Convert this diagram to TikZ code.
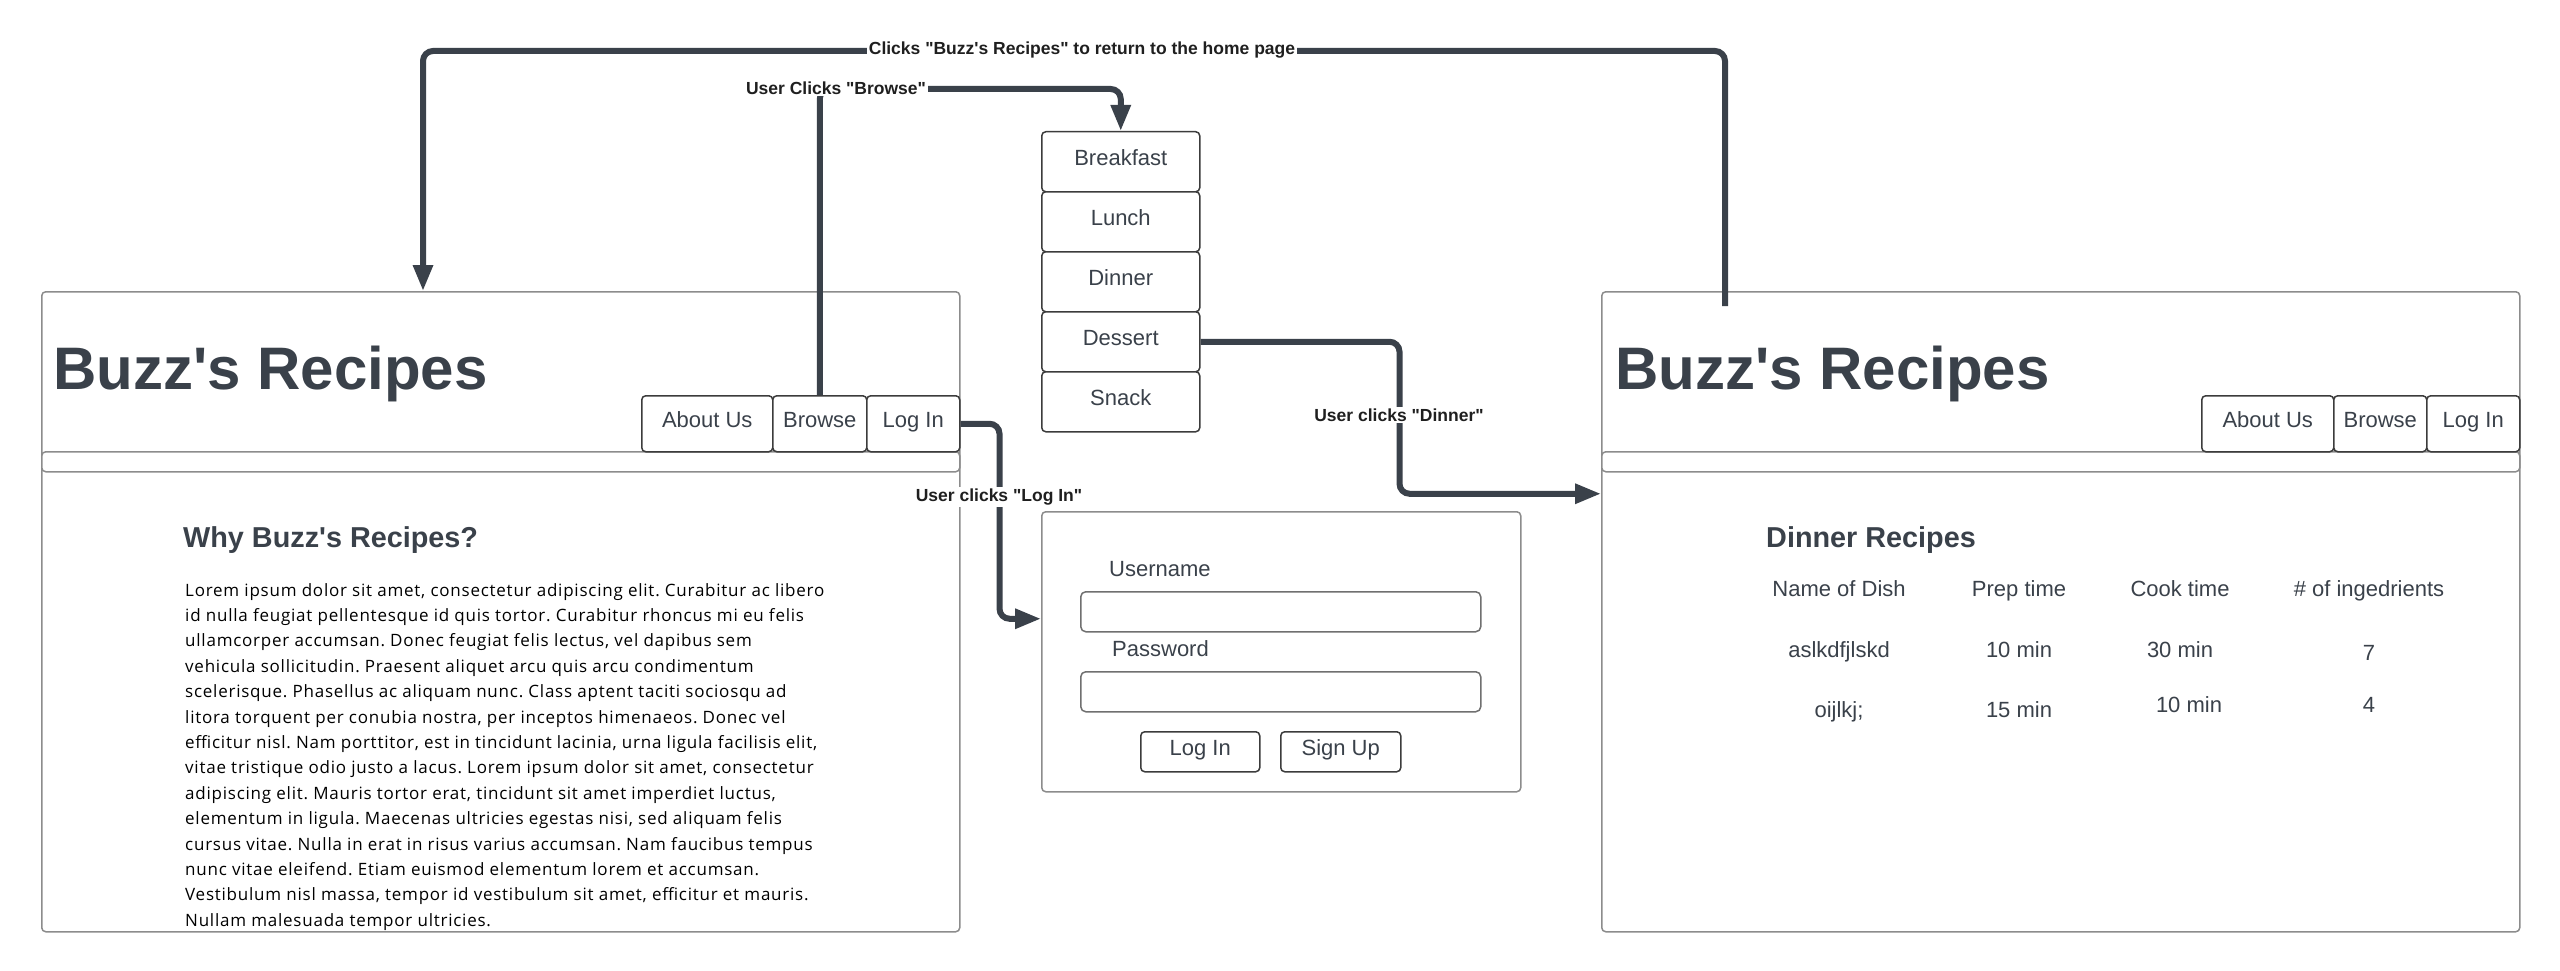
\documentclass[tikz,border=0pt]{standalone}
\usepackage{fontspec}
\setmainfont{Liberation Sans}
\newfontfamily\opensans{Open Sans}[LetterSpace=4.5]
\usetikzlibrary{arrows.meta,calc}
\definecolor{ink}{HTML}{3A414A}
\definecolor{pgray}{HTML}{8C8C8C}
\definecolor{bdark}{HTML}{3C3C3C}
\newcommand\ap{\textquotesingle}
\newcommand\qq[1]{\textquotedbl #1\textquotedbl}
\tikzset{
 pagebox/.style={draw=pgray, line width=1.5pt, rounded corners=4pt, inner sep=0pt, anchor=north west, fill=white},
 btn/.style={draw=bdark, line width=1.5pt, rounded corners=4pt, inner sep=0pt, anchor=north west, text=ink, fill=white,
   font=\fontsize{22}{26}\selectfont, text height=16pt, text depth=8pt},
 field/.style={draw=pgray!80!black, line width=1.5pt, rounded corners=5pt, inner sep=0pt, anchor=north west, fill=white},
 conn/.style={draw=ink, line width=6pt, rounded corners=10pt, -{Triangle[length=26pt,width=19pt]}},
 lbl/.style={fill=white, inner sep=1.5pt, font=\bfseries\fontsize{17.5}{20}\selectfont, text=black!88},
 title/.style={font=\bfseries\fontsize{60}{70}\selectfont, text=ink, anchor=base west, inner sep=0pt},
 heading/.style={font=\bfseries\fontsize{28.8}{32}\selectfont, text=ink, anchor=base west, inner sep=0pt},
 cell/.style={font=\fontsize{22}{26}\selectfont, text=ink, inner sep=0pt, text height=16pt, text depth=0pt},
}
\begin{document}
\begin{tikzpicture}[x=1pt,y=-1pt]
\useasboundingbox (0,0) rectangle (2560,971);

% ---------- left page ----------
\node[pagebox, minimum width=918pt, minimum height=640pt] (lp) at (41,291) {};
\node[pagebox, minimum width=918pt, minimum height=20pt] (lbar) at (41,451) {};
\node[btn, minimum width=131pt, minimum height=56pt] (lab) at (641,395) {About Us};
\node[btn, minimum width=94pt, minimum height=56pt] (lbr) at (772,395) {Browse};
\node[btn, minimum width=93pt, minimum height=56pt] (lli) at (866,395) {Log In};
\node[title] (ltitle) at (53,389) {Buzz\ap s Recipes};
\node[heading] (why) at (183,547) {Why Buzz\ap s Recipes?};
\node[anchor=north west, inner sep=0pt, align=left, text=black,
      font=\opensans\fontsize{17}{25.4}\selectfont\frenchspacing] (lorem) at (185,583) {%
Lorem ipsum dolor sit amet, consectetur adipiscing elit. Curabitur ac libero\\
id nulla feugiat pellentesque id quis tortor. Curabitur rhoncus mi eu felis\\
ullamcorper accumsan. Donec feugiat felis lectus, vel dapibus sem\\
vehicula sollicitudin. Praesent aliquet arcu quis arcu condimentum\\
scelerisque. Phasellus ac aliquam nunc. Class aptent taciti sociosqu ad\\
litora torquent per conubia nostra, per inceptos himenaeos. Donec vel\\
efficitur nisl. Nam porttitor, est in tincidunt lacinia, urna ligula facilisis elit,\\
vitae tristique odio justo a lacus. Lorem ipsum dolor sit amet, consectetur\\
adipiscing elit. Mauris tortor erat, tincidunt sit amet imperdiet luctus,\\
elementum in ligula. Maecenas ultricies egestas nisi, sed aliquam felis\\
cursus vitae. Nulla in erat in risus varius accumsan. Nam faucibus tempus\\
nunc vitae eleifend. Etiam euismod elementum lorem et accumsan.\\
Vestibulum nisl massa, tempor id vestibulum sit amet, efficitur et mauris.\\
Nullam malesuada tempor ultricies.};

% ---------- category menu ----------
\node[btn, minimum width=158pt, minimum height=60pt] (bf) at (1041,131) {Breakfast};
\node[btn, minimum width=158pt, minimum height=60pt] (lu) at (1041,191) {Lunch};
\node[btn, minimum width=158pt, minimum height=60pt] (di) at (1041,251) {Dinner};
\node[btn, minimum width=158pt, minimum height=60pt] (de) at (1041,311) {Dessert};
\node[btn, minimum width=158pt, minimum height=60pt] (sn) at (1041,371) {Snack};

% ---------- login box ----------
\node[pagebox, minimum width=479pt, minimum height=280pt] (login) at (1041,511) {};
\node[cell, anchor=west] (uname) at (1109,568) {Username};
\node[field, minimum width=400pt, minimum height=40pt] (ufield) at (1080,591) {};
\node[cell, anchor=west] (pword) at (1112,648) {Password};
\node[field, minimum width=400pt, minimum height=40pt] (pfield) at (1080,671) {};
\node[btn, minimum width=119pt, minimum height=40pt] (blog) at (1140,731) {Log In};
\node[btn, minimum width=120pt, minimum height=40pt] (bsign) at (1280,731) {Sign Up};

% ---------- right page ----------
\node[pagebox, minimum width=918pt, minimum height=640pt] (rp) at (1601,291) {};
\node[pagebox, minimum width=918pt, minimum height=20pt] (rbar) at (1601,451) {};
\node[btn, minimum width=132pt, minimum height=56pt] (rab) at (2201,395) {About Us};
\node[btn, minimum width=93pt, minimum height=56pt] (rbr) at (2333,395) {Browse};
\node[btn, minimum width=93pt, minimum height=56pt] (rli) at (2426,395) {Log In};
\node[title] (rtitle) at (1615,389) {Buzz\ap s Recipes};
\node[heading] (dinner) at (1766,547) {Dinner Recipes};

\node[cell] (h1) at (1839,588) {Name of Dish};
\node[cell] (h2) at (2019,588) {Prep time};
\node[cell] (h3) at (2180,588) {Cook time};
\node[cell] (h4) at (2369,588) {\# of ingedrients};
\node[cell] (a1) at (1839,649) {aslkdfjlskd};
\node[cell] (a2) at (2019,649) {10 min};
\node[cell] (a3) at (2180,649) {30 min};
\node[cell] (a4) at (2369,652) {7};
\node[cell] (b1) at (1839,709) {oijlkj;};
\node[cell] (b2) at (2019,709) {15 min};
\node[cell] (b3) at (2189,704) {10 min};
\node[cell] (b4) at (2369,704) {4};

% ---------- connectors ----------
\coordinate (rtop) at (1725,306);
\coordinate (yret) at (0,51);
\coordinate (ybrowse) at (0,89);
\draw[conn] (rtop) -- (rtop |- yret) -| ([xshift=382pt]lp.north west);
\draw[conn] (lbr.north) -- (lbr.north |- ybrowse) -| (bf.north);
\draw[conn] (lli.east) -- ++(39pt,0pt) |- ([yshift=33pt]login.west);
\draw[conn] (de.east) -- ++(199pt,0pt) |- ([yshift=118pt]rp.west);

\node[lbl] (lret) at (1082,50) {Clicks \qq{Buzz\ap s Recipes} to return to the home page};
\node[lbl] (lbrw) at (836,88) {User Clicks \qq{Browse}};
\node[lbl] (llog) at (999,497) {User clicks \qq{Log In}};
\node[lbl] (ldin) at (1399,415) {User clicks \qq{Dinner}};
\end{tikzpicture}
\end{document}
